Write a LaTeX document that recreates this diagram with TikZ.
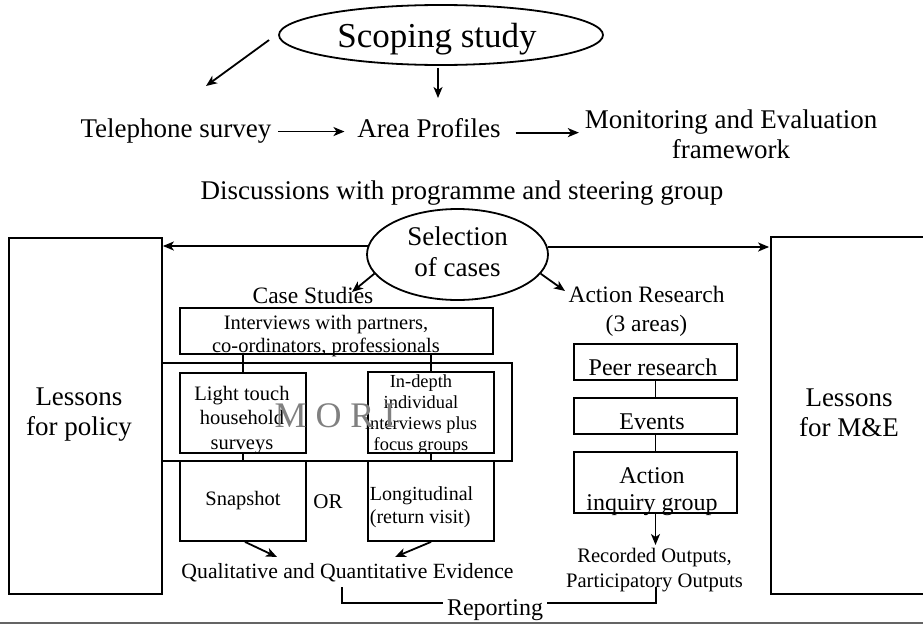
\documentclass[tikz,border=0pt]{standalone}
\usepackage{fontspec}
\setmainfont{Liberation Serif}
\usetikzlibrary{arrows.meta,shapes.geometric,calc}
\newcommand\fsz[2]{\fontsize{#1pt}{#2pt}\selectfont}
\definecolor{morigray}{RGB}{128,128,128}
\definecolor{rulegray}{RGB}{100,100,100}
\begin{document}
\begin{tikzpicture}[x=1pt,y=-1pt,line width=1.8pt,
  arr/.style={-{Stealth[length=11pt,width=9pt,inset=3pt]}},
  box/.style={draw,rectangle,inner sep=0pt},
  oval/.style={draw,ellipse,inner sep=0pt},
  txt/.style={inner sep=0pt,anchor=base,align=center},
  big/.style={font=\fsz{27}{30}},
  mid/.style={font=\fsz{23.5}{29}},
  sml/.style={font=\fsz{20.5}{23}}]
\useasboundingbox (0,0) rectangle (923,629);

% top part
\node[oval,minimum width=324pt,minimum height=60pt] (scope) at (441,35) {};
\node[txt,font=\fsz{35}{40}] (scopetxt) at (437,47) {Scoping study};
\node[txt,big] (tel) at (176,137) {Telephone survey};
\node[txt,big] (area) at (429,137) {Area Profiles};
\node[txt,font=\fsz{27}{30}] (me) at (731,158) {Monitoring and Evaluation\\framework};
\node[txt,big] (disc) at (462,199) {Discussions with programme and steering group};

\coordinate (c1) at (206,86);
\coordinate (c2) at (438,98);
\draw[arr] ($(scope.west)+(-9,5)$) -- (c1);
\draw[arr] ($(scope.south)+(-3,2)$) -- (c2);
\draw[arr] ($(tel.east)+(6,1)$) -- ($(area.west |- tel.east)+(-12,1)$);
\draw[arr] ($(area.east)+(14,5)$) -- ($(me.west |- area.east)+(-5,5)$);

% selection
\node[oval,minimum width=181pt,minimum height=91pt] (sel) at (457.5,254.5) {};
\node[txt,font=\fsz{27}{31}] (seltxt) at (457.5,276) {Selection\\of cases};

% side boxes
\node[box,minimum width=153pt,minimum height=356pt] (policy) at (85.5,416) {};
\node[txt,big] (poltxt) at (79,435) {Lessons\\for policy};
\node[inner sep=0pt,minimum width=151pt,minimum height=355pt] (mebox) at (847.5,415.5) {};
\draw (mebox.north east) -- (mebox.north west) -- (mebox.south west) -- (mebox.south east);
\node[txt,big] (metxt) at (849,436) {Lessons\\for M\&E};

\draw[arr] ($(sel.west)+(2,-8.5)$) -- ($(sel.west -| policy.east)+(0,-8.5)$);
\draw[arr] ($(sel.east)+(-1,-7.5)$) -- ($(sel.east -| mebox.west)+(-2,-7.5)$);

% case studies
\node[txt,mid] (case) at (313,303) {Case Studies};
\node[txt,mid] (act) at (646.5,331) {Action Research\\(3 areas)};
\coordinate (c3) at (352,292);
\coordinate (c4) at (565,291);
\draw[arr] (sel.193) -- (c3);
\draw[arr] (sel.347) -- (c4);

\node[box,minimum width=313pt,minimum height=46pt] (intbox) at (336.5,331) {};
\node[txt,sml] (inttxt) at (326,352) {Interviews with partners,\\co-ordinators, professionals};

\node[box,minimum width=350pt,minimum height=98pt] (casebox) at (337,412) {};
\node[box,minimum width=126pt,minimum height=80pt] (light) at (243,413) {};
\node[txt,font=\fsz{20.5}{24.5}] (lighttxt) at (242,449) {Light touch\\household\\surveys};
\node[box,minimum width=126pt,minimum height=81pt] (indepth) at (431,412.5) {};
\node[txt,font=\fsz{18.4}{20.7}] (indtxt) at (421,450) {In-depth\\individual\\interviews plus\\focus groups};

\node[box,minimum width=126pt,minimum height=80pt,sml] (snap) at (243,501) {Snapshot};
\node[txt,font=\fsz{21}{24}] (or) at (328,508) {OR};
\node[box,minimum width=126pt,minimum height=80pt] (long) at (431,501) {};
\node[inner sep=0pt,anchor=base west,align=left,font=\fsz{20}{23}] (longtxt) at (369,523) {Longitudinal\\(return visit)};

\draw (light.north) -- (light.north |- intbox.south);
\draw (indepth.north) -- (indepth.north |- intbox.south);
\draw (light.south) -- (snap.north);
\draw (indepth.south) -- (long.north);

\node[txt,font=\fsz{21.7}{25}] (qual) at (347.5,578) {Qualitative and Quantitative Evidence};
\coordinate (c5) at (277,557);
\coordinate (c6) at (395,557);
\draw[arr] ($(snap.south)+(2,0)$) -- (c5);
\draw[arr] (long.south) -- (c6);

% action research
\node[box,minimum width=163pt,minimum height=36pt] (peer) at (655.5,362) {};
\node[txt,font=\fsz{24}{27}] (peertxt) at (653,375) {Peer research};
\node[box,minimum width=163pt,minimum height=36pt] (events) at (655.5,416) {};
\node[txt,font=\fsz{24}{27}] (evtxt) at (652,429) {Events};
\node[box,minimum width=163pt,minimum height=61pt] (aig) at (655.5,482.5) {};
\node[txt,font=\fsz{24}{27}] (aigtxt) at (652,510) {Action\\inquiry group};
\draw (peer.south) -- (events.north);
\draw (events.south) -- (aig.north);
\node[txt,font=\fsz{20.6}{25}] (rec) at (654.5,587) {Recorded Outputs,\\Participatory Outputs};
\coordinate (c7) at (655.5,545);
\draw[arr] (aig.south) -- (c7);

% reporting
\node[txt,font=\fsz{24}{27}] (rep) at (495,615) {Reporting};
\coordinate (rl) at (342,587);
\coordinate (rlb) at (443,603);
\coordinate (rrb) at (547,603);
\coordinate (rr) at (656,587);
\draw (rl) |- (rlb);
\draw (rrb) -| (rr);

% bottom rule
\coordinate (gl) at (0,623);
\coordinate (gr) at (923,623);
\draw[rulegray,line width=1.6pt] (gl) -- (gr);

% watermark
\node[txt,font=\fsz{36}{40},text=morigray] (mori) at (335,427) {M O R I};
\end{tikzpicture}
\end{document}
